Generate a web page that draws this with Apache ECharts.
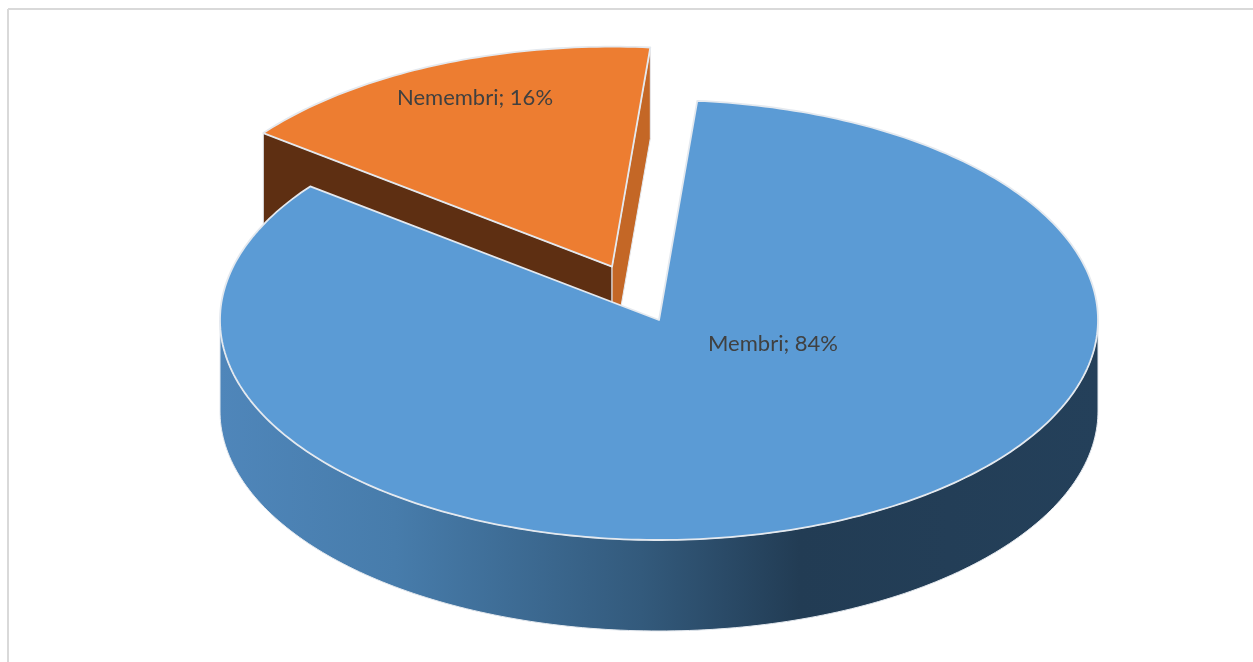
<!DOCTYPE html>
<html>
<head>
<meta charset="utf-8">
<style>html,body{margin:0;padding:0;background:#fff}#c{width:1253px;height:662px}</style>
<script src="https://cdn.jsdelivr.net/npm/echarts@6/dist/echarts.min.js"></script>
</head>
<body>
<div id="c"></div>
<script>
const categories = ['Membri', 'Nemembri'];
const shares = [84, 16];

// Layout of the tilted disc
const CX = 659, CY = 320, RX = 439, RY = 220, DEPTH = 91;
const START_DEG = 5, EXPLODE = [0, 0.265];
const TOP_COLORS = ['#5b9bd5', '#ed7d31'];
const LABEL_CENTER = [[773, 344], [475, 98]];
const EDGE = '#e4e9ef';

const chart = echarts.init(document.getElementById('c'), null, {renderer: 'canvas'});

function rimPoint(deg, ox, oy, drop) {
  const a = deg * Math.PI / 180;
  return [ox + RX * Math.sin(a), oy - RY * Math.cos(a) + (drop || 0)];
}
function arcPoints(a0, a1, ox, oy, drop) {
  const pts = [], n = Math.max(2, Math.ceil(Math.abs(a1 - a0)));
  for (let i = 0; i <= n; i++) pts.push(rimPoint(a0 + (a1 - a0) * i / n, ox, oy, drop));
  return pts;
}
function poly(points, fill, z2, stroke, lw) {
  return {type: 'polygon', shape: {points}, z2,
    style: {fill, stroke: stroke || null, lineWidth: lw || 0, lineJoin: 'round'}, silent: true};
}

function renderSlice(params, api) {
  const i = params.dataIndex;
  const total = shares.reduce((s, v) => s + v, 0);
  let from = START_DEG;
  for (let k = 0; k < i; k++) from += shares[k] / total * 360;
  const to = from + api.value(0) / total * 360;
  const mid = (from + to) / 2 * Math.PI / 180;
  const ox = CX + EXPLODE[i] * RX * Math.sin(mid);
  const oy = CY - EXPLODE[i] * RY * Math.cos(mid);
  const base = i === 0 ? 20 : 0;
  const children = [];

  if (i === 0) {
    const upper = arcPoints(90, 270, ox, oy, 0);
    const lower = arcPoints(270, 90, ox, oy, DEPTH);
    children.push(poly(upper.concat(lower), {
      type: 'linear', x: 0, y: 0, x2: 1, y2: 0,
      colorStops: [
        {offset: 0, color: '#4f86ba'},
        {offset: 0.2, color: '#477cab'},
        {offset: 0.48, color: '#335a7c'},
        {offset: 0.66, color: '#223c54'},
        {offset: 1, color: '#24405a'}
      ]
    }, base, EDGE, 1));
  } else {
    const p0 = rimPoint(from, ox, oy), p1 = rimPoint(to, ox, oy);
    const c = [ox, oy];
    const d = (p) => [p[0], p[1] + DEPTH];
    children.push(poly([c, p0, d(p0), d(c)], '#5e2f12', base, EDGE, 1));
    children.push(poly([c, p1, d(p1), d(c)], '#c46726', base + 1, EDGE, 1));
  }
  children.push(poly([[ox, oy]].concat(arcPoints(from, to, ox, oy, 0)),
    TOP_COLORS[i], base + 2, EDGE, 1.8));
  children.push({
    type: 'text', z2: 40, silent: true,
    style: {
      x: LABEL_CENTER[i][0], y: LABEL_CENTER[i][1],
      text: categories[i] + '; ' + api.value(0) + '%',
      fill: '#404040', font: '22px Lato', align: 'center', verticalAlign: 'middle'
    }
  });
  return {type: 'group', children};
}

chart.setOption({
  animation: false,
  backgroundColor: '#ffffff',
  graphic: [
    {type: 'line', shape: {x1: 8, y1: 9, x2: 1253, y2: 9}, style: {stroke: '#d9d9d9', lineWidth: 2}, silent: true},
    {type: 'line', shape: {x1: 8, y1: 9, x2: 8, y2: 662}, style: {stroke: '#d9d9d9', lineWidth: 2}, silent: true}
  ],
  series: [{
    type: 'custom',
    coordinateSystem: 'none',
    renderItem: renderSlice,
    data: shares.map((v, i) => ({name: categories[i], value: [v]}))
  }]
});
</script>
</body>
</html>
